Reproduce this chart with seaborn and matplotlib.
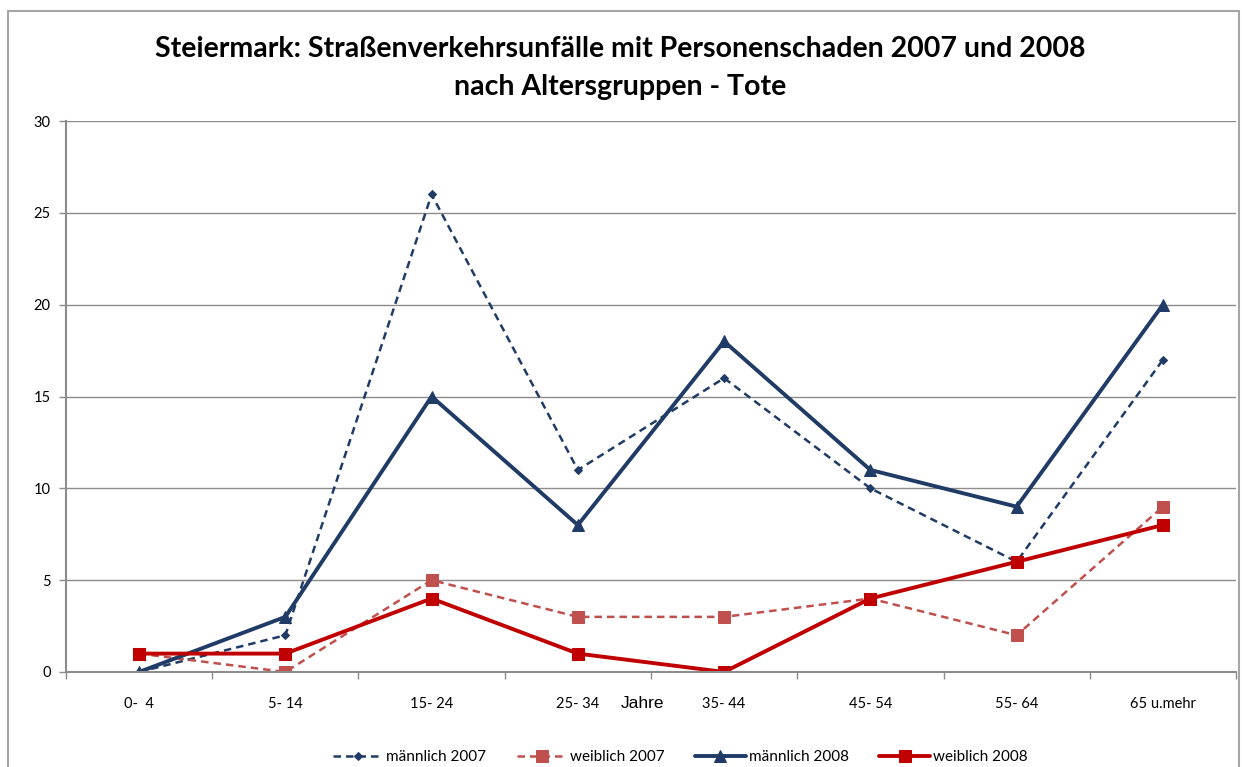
import matplotlib
matplotlib.use('Agg')

import matplotlib.pyplot as plt
import seaborn as sns
import numpy as np
import pandas as pd
from matplotlib.patches import Rectangle
from matplotlib.ticker import FixedLocator, MultipleLocator

# Data
age_groups = ["0-  4", "5- 14", "15- 24", "25- 34", "35- 44", "45- 54", "55- 64", "65 u.mehr"]
maennlich_2007 = [0, 2, 26, 11, 16, 10, 6, 17]
weiblich_2007 = [1, 0, 5, 3, 3, 4, 2, 9]
maennlich_2008 = [0, 3, 15, 8, 18, 11, 9, 20]
weiblich_2008 = [1, 1, 4, 1, 0, 4, 6, 8]

series = [
    ("männlich 2007", maennlich_2007, "#1F3B66", (0, (3.0, 2.0)), "D", 4.5, 1.8),
    ("weiblich 2007", weiblich_2007, "#C0504D", (0, (3.0, 2.0)), "s", 8, 1.8),
    ("männlich 2008", maennlich_2008, "#1F3B66", "-", "^", 9, 2.8),
    ("weiblich 2008", weiblich_2008, "#C00000", "-", "s", 8, 2.8),
]

sns.set_theme(style="white")
plt.rcParams['font.family'] = ['Lato', 'DejaVu Sans']
plt.rcParams['text.color'] = 'black'
plt.rcParams['xtick.color'] = 'black'
plt.rcParams['ytick.color'] = 'black'

fig = plt.figure(figsize=(12.42, 7.67), dpi=100)
ax = fig.add_axes([0.0531, 0.1239, 0.9421, 0.7183])

x = np.arange(len(age_groups))
handles = []
for label, vals, color, ls, marker, ms, lw in series:
    df = pd.DataFrame({"x": x, "y": vals})
    sns.lineplot(data=df, x="x", y="y", ax=ax, color=color, linewidth=lw,
                 linestyle=ls, marker=marker, markersize=ms,
                 markeredgecolor=color, markerfacecolor=color, label=label,
                 legend=False)
    handles.append(ax.lines[-1])

ax.set_xlim(-0.5, len(age_groups) - 0.5)
ax.set_ylim(0, 30)
ax.yaxis.set_major_locator(MultipleLocator(5))
ax.grid(axis="y", color="#8C8C8C", linewidth=1.0)
ax.set_axisbelow(True)

# category labels centered, tick marks at boundaries
ax.set_xticks(x)
ax.set_xticklabels(age_groups, fontsize=10.5)
ax.xaxis.set_minor_locator(FixedLocator(np.arange(-0.5, len(age_groups), 1.0)))
ax.tick_params(axis="x", which="major", length=0, pad=18)
ax.tick_params(axis="x", which="minor", length=5, color="#8C8C8C", width=1, direction="out")
ax.tick_params(axis="y", length=5, color="#8C8C8C", width=1, direction="out", labelsize=10.5, pad=6)
ax.xaxis.set_tick_params(bottom=True, which="both")
ax.yaxis.set_tick_params(left=True)

for side in ["top", "right"]:
    ax.spines[side].set_visible(False)
for side in ["left", "bottom"]:
    ax.spines[side].set_color("#8C8C8C")
    ax.spines[side].set_linewidth(1.5)

ax.set_xlabel("")
ax.set_ylabel("")
fig.text(643 / 1242, 1 - 703 / 767, "Jahre", ha="center", va="center",
         fontsize=12.5, family=["Liberation Sans", "DejaVu Sans"])

fig.suptitle("Steiermark: Straßenverkehrsunfälle mit Personenschaden 2007 und 2008\nnach Altersgruppen - Tote",
             x=620 / 1242, y=1 - 68 / 767, va="center", fontsize=20.5, fontweight="bold",
             linespacing=1.55)

fig.legend(handles=handles, labels=[s[0] for s in series], loc="center",
           bbox_to_anchor=(680 / 1242, 1 - 757 / 767), ncol=4, frameon=False,
           fontsize=11, handlelength=3.3, columnspacing=2.0, handletextpad=0.2)

# outer chart border
fig.patches.append(Rectangle((8 / 1242, -0.05), 1231 / 1242, 1.05 - 11 / 767,
                             transform=fig.transFigure, fill=False,
                             edgecolor="#A6A6A6", linewidth=1.5))

fig.savefig("out.png", dpi=100)
